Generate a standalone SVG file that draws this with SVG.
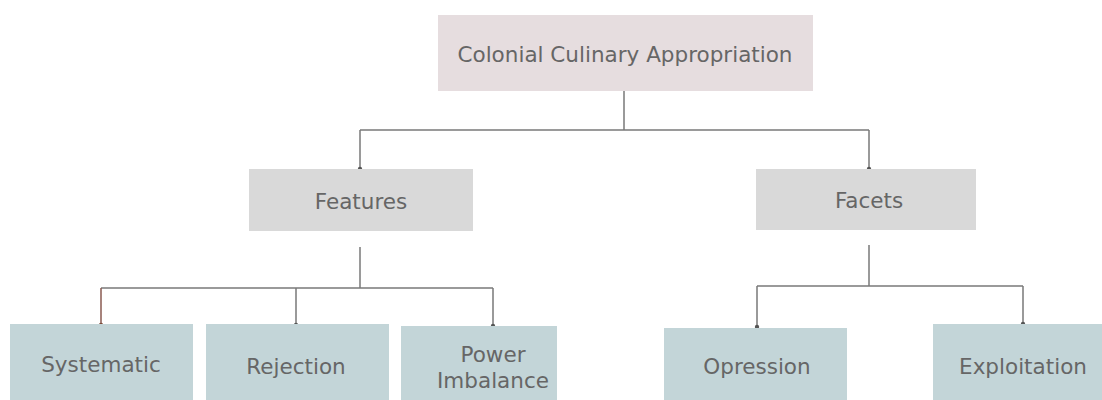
<svg xmlns="http://www.w3.org/2000/svg" width="1102" height="400" viewBox="0 0 1102 400">
<style>
.t{font-family:"DejaVu Sans","Liberation Sans",sans-serif;font-size:21.5px;fill:#666666;text-anchor:middle;dominant-baseline:central}
.ln{stroke:#7a7a7a;stroke-width:1.5;fill:none}
.dot{fill:#555}
</style>
<rect width="1102" height="400" fill="#ffffff"/>
<g id="connectors">
<path class="ln" d="M624,91 V130 M360,130 H869 M360,130 V169 M869,130 V169"/>
<path class="ln" d="M360,247 V288 M101,288 H493 M296,288 V325 M493,288 V326"/>
<path d="M101,288 V325" stroke="#8a5a50" stroke-width="1.5" fill="none"/>
<path class="ln" d="M869,245 V286 M757,286 H1023 M757,286 V327 M1023,286 V324"/>
<circle class="dot" cx="360" cy="169" r="2.2"/>
<circle class="dot" cx="869" cy="169" r="2.2"/>
<circle cx="101" cy="325" r="2.2" fill="#7a4a3a"/>
<circle class="dot" cx="296" cy="325" r="2.2"/>
<circle class="dot" cx="493" cy="326" r="2.2"/>
<circle class="dot" cx="757" cy="327" r="2.2"/>
<circle class="dot" cx="1023" cy="324" r="2.2"/>
</g>
<g id="root">
<rect x="438" y="15" width="375" height="76" fill="#e6dddf"/>
<text class="t" x="625" y="54">Colonial Culinary Appropriation</text>
</g>
<g id="features">
<rect x="249" y="169" width="224" height="62" fill="#d9d9d9"/>
<text class="t" x="361" y="201">Features</text>
</g>
<g id="facets">
<rect x="756" y="169" width="220" height="61" fill="#d9d9d9"/>
<text class="t" x="869" y="200">Facets</text>
</g>
<g id="systematic">
<rect x="10" y="324" width="183" height="80" fill="#c3d5d8"/>
<text class="t" x="101" y="364">Systematic</text>
</g>
<g id="rejection">
<rect x="206" y="324" width="183" height="80" fill="#c3d5d8"/>
<text class="t" x="296" y="366">Rejection</text>
</g>
<g id="power">
<rect x="401" y="326" width="156" height="78" fill="#c3d5d8"/>
<text class="t" x="493" y="354">Power</text>
<text class="t" x="493" y="380">Imbalance</text>
</g>
<g id="opression">
<rect x="664" y="328" width="183" height="76" fill="#c3d5d8"/>
<text class="t" x="757" y="366">Opression</text>
</g>
<g id="exploitation">
<rect x="933" y="324" width="175" height="80" fill="#c3d5d8"/>
<text class="t" x="1023" y="366">Exploitation</text>
</g>
</svg>
